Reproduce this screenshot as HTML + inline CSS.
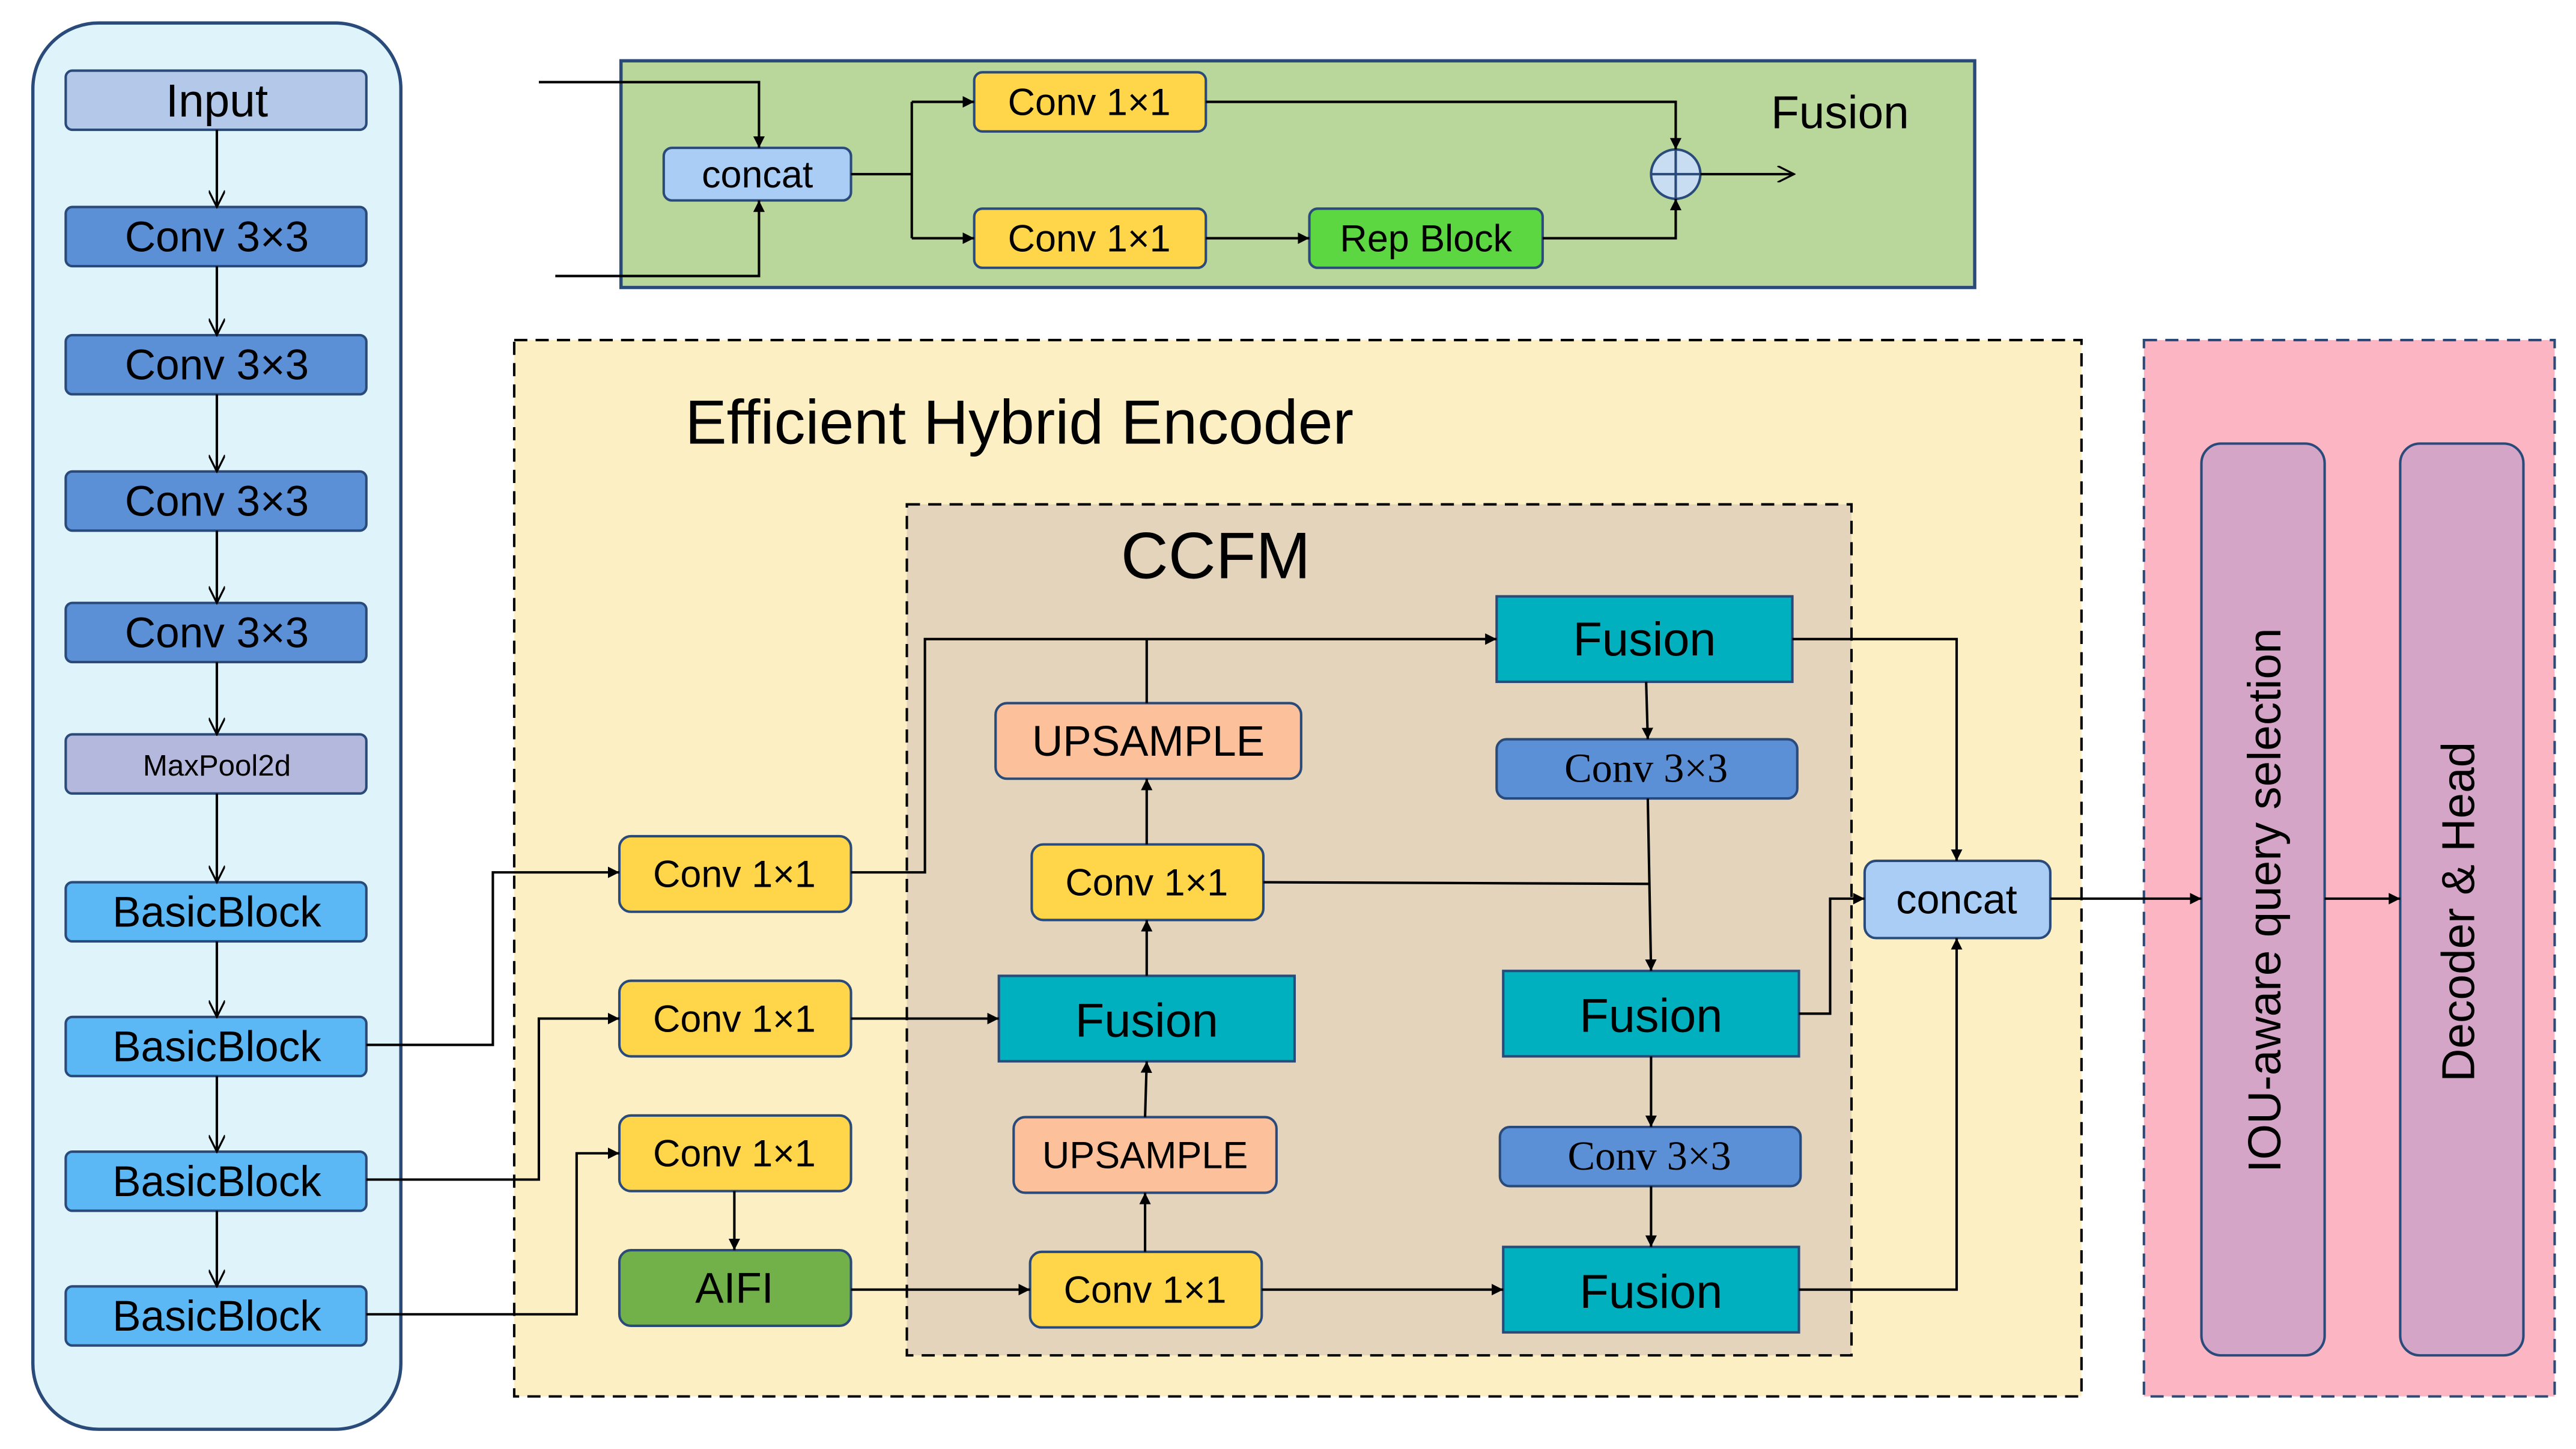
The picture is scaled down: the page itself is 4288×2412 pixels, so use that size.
<!DOCTYPE html>
<html><head><meta charset="utf-8"><style>
html,body{margin:0;padding:0;background:#fff;}
svg{display:block;}
text{font-family:"Liberation Sans",sans-serif;}
</style></head><body>
<svg width="4288" height="2412" viewBox="0 0 1568 882" xmlns="http://www.w3.org/2000/svg">
<defs>
<marker id="a" viewBox="0 0 10 10" refX="10" refY="5" markerWidth="7" markerHeight="7" orient="auto" markerUnits="userSpaceOnUse"><path d="M0,0 L10,5 L0,10 z" fill="#000"/></marker>
<marker id="o" viewBox="0 0 10 10" refX="10" refY="5" markerWidth="12" markerHeight="10" orient="auto" markerUnits="userSpaceOnUse"><path d="M0,0 L10,5 L0,10" fill="none" stroke="#000" stroke-width="1.2"/></marker>
</defs>
<rect width="1568" height="882" fill="#fff"/>
<rect x="20" y="14" width="224" height="856" rx="40" fill="#dff3fb" stroke="#2a4a7a" stroke-width="2"/>
<g stroke="#2a4a7a" stroke-width="1.5">
<rect x="40" y="43" width="183" height="36" rx="4" fill="#b4c8ea"/>
<rect x="40" y="126" width="183" height="36" rx="4" fill="#5b8fd6"/>
<rect x="40" y="204" width="183" height="36" rx="4" fill="#5b8fd6"/>
<rect x="40" y="287" width="183" height="36" rx="4" fill="#5b8fd6"/>
<rect x="40" y="367" width="183" height="36" rx="4" fill="#5b8fd6"/>
<rect x="40" y="447" width="183" height="36" rx="4" fill="#b4b8dc"/>
<rect x="40" y="537" width="183" height="36" rx="4" fill="#5bb8f5"/>
<rect x="40" y="619" width="183" height="36" rx="4" fill="#5bb8f5"/>
<rect x="40" y="701" width="183" height="36" rx="4" fill="#5bb8f5"/>
<rect x="40" y="783" width="183" height="36" rx="4" fill="#5bb8f5"/>
</g>
<g font-size="26" text-anchor="middle" fill="#000">
<text x="132" y="71" font-size="28">Input</text>
<text x="132" y="153">Conv 3×3</text>
<text x="132" y="231">Conv 3×3</text>
<text x="132" y="314">Conv 3×3</text>
<text x="132" y="394">Conv 3×3</text>
<text x="132" y="472" font-size="18">MaxPool2d</text>
<text x="132" y="564">BasicBlock</text>
<text x="132" y="646">BasicBlock</text>
<text x="132" y="728">BasicBlock</text>
<text x="132" y="810">BasicBlock</text>
</g>
<g stroke="#000" stroke-width="1.5" fill="none" marker-end="url(#o)">
<line x1="132" y1="79" x2="132" y2="126"/>
<line x1="132" y1="162" x2="132" y2="204"/>
<line x1="132" y1="240" x2="132" y2="287"/>
<line x1="132" y1="323" x2="132" y2="367"/>
<line x1="132" y1="403" x2="132" y2="447"/>
<line x1="132" y1="483" x2="132" y2="537"/>
<line x1="132" y1="573" x2="132" y2="619"/>
<line x1="132" y1="655" x2="132" y2="701"/>
<line x1="132" y1="737" x2="132" y2="783"/>
</g>
<rect x="378" y="37" width="824" height="138" fill="#b9d69b" stroke="#2a4a7a" stroke-width="2"/>
<text x="1120" y="78" font-size="28" text-anchor="middle">Fusion</text>
<g stroke="#2a4a7a" stroke-width="1.5">
<rect x="404" y="90" width="114" height="32" rx="5" fill="#a9cdf5"/>
<rect x="593" y="44" width="141" height="36" rx="5" fill="#ffd54a"/>
<rect x="593" y="127" width="141" height="36" rx="5" fill="#ffd54a"/>
<rect x="797" y="127" width="142" height="36" rx="5" fill="#5cd641"/>
<circle cx="1020" cy="106" r="15" fill="#c8dcf2"/>
<line x1="1005" y1="106" x2="1035" y2="106"/><line x1="1020" y1="91" x2="1020" y2="121"/>
</g>
<g font-size="23" text-anchor="middle">
<text x="461" y="114">concat</text>
<text x="663" y="70">Conv 1×1</text>
<text x="663" y="153">Conv 1×1</text>
<text x="868" y="153">Rep Block</text>
</g>
<g stroke="#000" stroke-width="1.5" fill="none">
<polyline points="328,50 462,50 462,90" marker-end="url(#a)"/>
<polyline points="338,168 462,168 462,122" marker-end="url(#a)"/>
<polyline points="518,106 555,106"/>
<polyline points="555,62 555,145"/>
<line x1="555" y1="62" x2="593" y2="62" marker-end="url(#a)"/>
<line x1="555" y1="145" x2="593" y2="145" marker-end="url(#a)"/>
<line x1="734" y1="145" x2="797" y2="145" marker-end="url(#a)"/>
<polyline points="734,62 1020,62 1020,91" marker-end="url(#a)"/>
<polyline points="939,145 1020,145 1020,121" marker-end="url(#a)"/>
<line x1="1035" y1="106" x2="1092" y2="106" marker-end="url(#o)"/>
</g>
<rect x="313" y="207" width="954" height="643" fill="#fdefc4" stroke="#000" stroke-width="1.5" stroke-dasharray="8,5"/>
<text x="417" y="270" font-size="38">Efficient Hybrid Encoder</text>
<rect x="552" y="307" width="575" height="518" fill="#e3d4bb" stroke="#000" stroke-width="1.5" stroke-dasharray="8,5"/>
<text x="740" y="352" font-size="40" text-anchor="middle">CCFM</text>
<rect x="1305" y="207" width="250" height="643" fill="#fbb5c3" stroke="#2a4a7a" stroke-width="1.5" stroke-dasharray="8,5"/>
<rect x="1340" y="270" width="75" height="555" rx="12" fill="#d5a5c8" stroke="#2a4a7a" stroke-width="1.5"/>
<rect x="1461" y="270" width="75" height="555" rx="12" fill="#d5a5c8" stroke="#2a4a7a" stroke-width="1.5"/>
<text transform="translate(1388,548) rotate(-90)" font-size="28" text-anchor="middle">IOU-aware query selection</text>
<text transform="translate(1506,555) rotate(-90)" font-size="28" text-anchor="middle">Decoder &amp; Head</text>
<g stroke="#2a4a7a" stroke-width="1.5">
<rect x="377" y="509" width="141" height="46" rx="7" fill="#ffd54a"/>
<rect x="377" y="597" width="141" height="46" rx="7" fill="#ffd54a"/>
<rect x="377" y="679" width="141" height="46" rx="7" fill="#ffd54a"/>
<rect x="377" y="761" width="141" height="46" rx="7" fill="#72b04a"/>
<rect x="606" y="428" width="186" height="46" rx="7" fill="#fcc09a"/>
<rect x="628" y="514" width="141" height="46" rx="7" fill="#ffd54a"/>
<rect x="608" y="594" width="180" height="52" fill="#00b0be"/>
<rect x="617" y="680" width="160" height="46" rx="7" fill="#fcc09a"/>
<rect x="627" y="762" width="141" height="46" rx="7" fill="#ffd54a"/>
<rect x="911" y="363" width="180" height="52" fill="#00b0be"/>
<rect x="911" y="450" width="183" height="36" rx="6" fill="#5b8fd6"/>
<rect x="915" y="591" width="180" height="52" fill="#00b0be"/>
<rect x="913" y="686" width="183" height="36" rx="6" fill="#5b8fd6"/>
<rect x="915" y="759" width="180" height="52" fill="#00b0be"/>
<rect x="1135" y="524" width="113" height="47" rx="7" fill="#a9cdf5"/>
</g>
<g font-size="23" text-anchor="middle">
<text x="447" y="540">Conv 1×1</text>
<text x="447" y="628">Conv 1×1</text>
<text x="447" y="710">Conv 1×1</text>
<text x="447" y="793" font-size="26">AIFI</text>
<text x="699" y="460" font-size="26">UPSAMPLE</text>
<text x="698" y="545">Conv 1×1</text>
<text x="698" y="631" font-size="29">Fusion</text>
<text x="697" y="711">UPSAMPLE</text>
<text x="697" y="793">Conv 1×1</text>
<text x="1001" y="399" font-size="29">Fusion</text>
<text x="1002" y="476" style="font-family:'Liberation Serif',serif;font-size:25px">Conv 3×3</text>
<text x="1005" y="628" font-size="29">Fusion</text>
<text x="1004" y="712" style="font-family:'Liberation Serif',serif;font-size:25px">Conv 3×3</text>
<text x="1005" y="796" font-size="29">Fusion</text>
<text x="1191" y="556" font-size="25">concat</text>
</g>
<g stroke="#000" stroke-width="1.5" fill="none">
<polyline points="223,636 300,636 300,531 377,531" marker-end="url(#a)"/>
<polyline points="223,718 328,718 328,620 377,620" marker-end="url(#a)"/>
<polyline points="223,800 351,800 351,702 377,702" marker-end="url(#a)"/>
<line x1="447" y1="725" x2="447" y2="761" marker-end="url(#a)"/>
<line x1="518" y1="785" x2="627" y2="785" marker-end="url(#a)"/>
<line x1="697" y1="762" x2="697" y2="726" marker-end="url(#a)"/>
<line x1="697" y1="680" x2="698" y2="646" marker-end="url(#a)"/>
<line x1="518" y1="620" x2="608" y2="620" marker-end="url(#a)"/>
<line x1="698" y1="594" x2="698" y2="560" marker-end="url(#a)"/>
<line x1="698" y1="514" x2="698" y2="474" marker-end="url(#a)"/>
<line x1="698" y1="428" x2="698" y2="389"/>
<polyline points="518,531 563,531 563,389 911,389" marker-end="url(#a)"/>
<line x1="1002" y1="415" x2="1003" y2="450" marker-end="url(#a)"/>
<polyline points="769,537 1004,538"/>
<line x1="1003" y1="486" x2="1005" y2="591" marker-end="url(#a)"/>
<line x1="1005" y1="643" x2="1005" y2="686" marker-end="url(#a)"/>
<line x1="1005" y1="722" x2="1005" y2="759" marker-end="url(#a)"/>
<line x1="768" y1="785" x2="915" y2="785" marker-end="url(#a)"/>
<polyline points="1091,389 1191,389 1191,524" marker-end="url(#a)"/>
<polyline points="1095,617 1114,617 1114,547 1135,547" marker-end="url(#a)"/>
<polyline points="1095,785 1191,785 1191,571" marker-end="url(#a)"/>
<line x1="1248" y1="547" x2="1340" y2="547" marker-end="url(#a)"/>
<line x1="1415" y1="547" x2="1461" y2="547" marker-end="url(#a)"/>
</g>
</svg>
</body></html>
